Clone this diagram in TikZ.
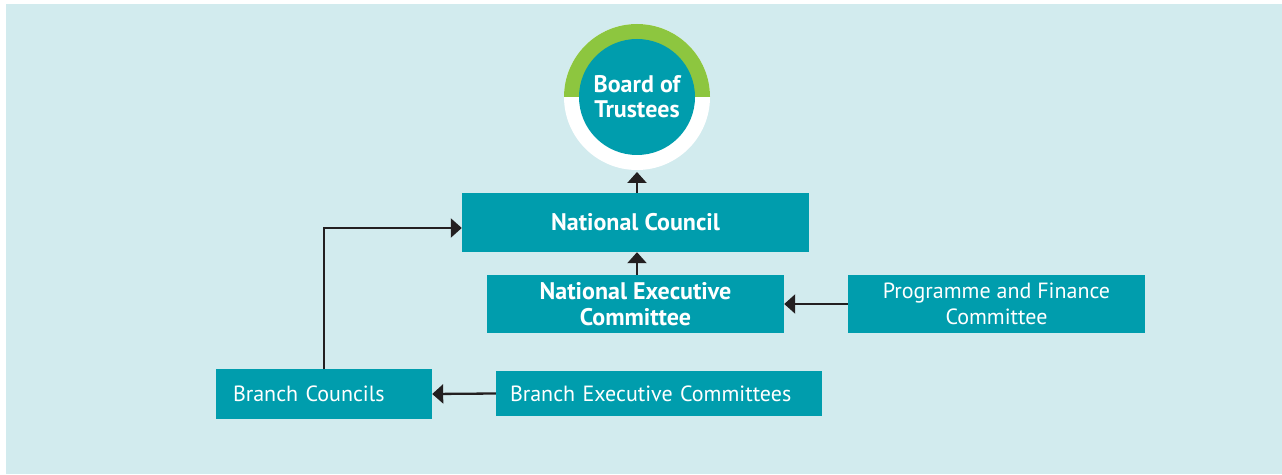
\documentclass[tikz,border=0pt]{standalone}
\usepackage{fontspec}
\setmainfont{PT Sans}
\usetikzlibrary{arrows.meta,positioning}
\definecolor{bgblue}{HTML}{D2EBEE}
\definecolor{unitteal}{HTML}{009DAD}
\definecolor{ringgreen}{HTML}{8DC63F}
\definecolor{linkdark}{HTML}{231F20}

\tikzset{
  unit/.style={fill=unitteal, text=white, inner sep=0pt, align=center,
    font=\fontsize{22}{26}\selectfont},
  bunit/.style={unit, font=\bfseries\fontsize{24}{26}\selectfont},
  link/.style={draw=linkdark, line width=2.3pt,
    -{Triangle[width=19pt,length=11pt]}}
}

\begin{document}
\begin{tikzpicture}[x=1pt,y=1pt]
\useasboundingbox (0,0) rectangle (1282,474);
\fill[bgblue] (6,0) rectangle (1282,470);

% board at the top
\coordinate (B) at (637,377);
\fill[white] (B) circle (73);
\fill[ringgreen] (B) ++(73,0) arc (0:180:73) -- cycle;
\node[circle, fill=unitteal, minimum size=116, inner sep=0pt, text=white, align=center,
  font=\bfseries\fontsize{24}{25}\selectfont] (board) at (B) {Board of\\Trustees};
\coordinate (bottom) at (637,304);

% boxes
\node[bunit, minimum width=347, minimum height=59] (nc) at (635.5,251.5) {National Council};
\node[bunit, minimum width=297, minimum height=58] (nec) at (635.5,170) {National Executive\\Committee};
\node[unit, minimum width=297, minimum height=58] (pfc) at (996.5,170) {Programme and Finance\\Committee};
\node[unit, text width=182, inner xsep=17, align=left, minimum height=49] (bc) at (324,80) {Branch Councils};
\node[unit, text width=298, inner xsep=14, align=left, minimum height=45] (bec) at (659,80.5) {Branch Executive Committees};

% reporting lines
\draw[link] (nc.north -| bottom) -- ([yshift=-2]bottom);
\draw[link] (nec.north -| bottom) -- (nc.south -| bottom);
\draw[link] (pfc.west) -- (nec.east);
\draw[link] (bec.west) -- (bc.west -| bc.east);
\draw[link] (bc.north) |- ([yshift=-5.5]nc.west);
\end{tikzpicture}
\end{document}
